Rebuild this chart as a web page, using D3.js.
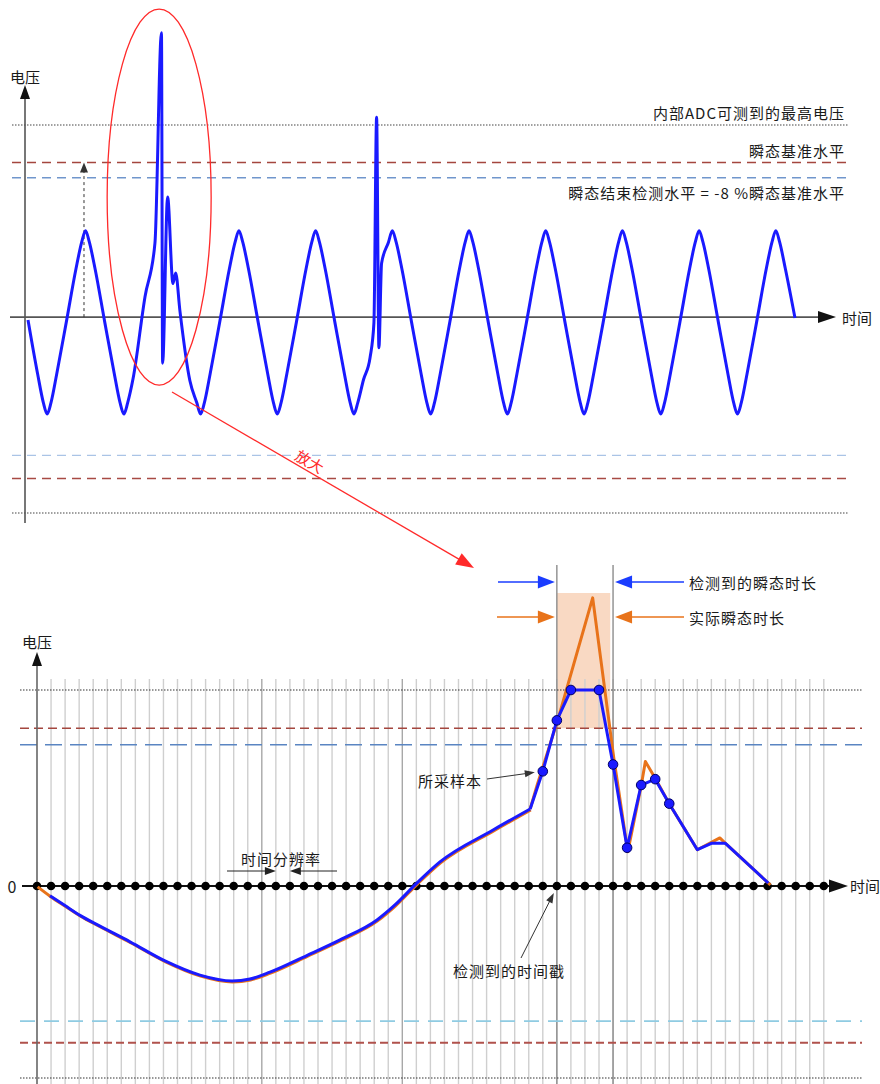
<!DOCTYPE html>
<html><head><meta charset="utf-8">
<script src="https://cdn.jsdelivr.net/npm/d3@7"></script>
<style>
body{margin:0;background:#fff}
text{font-family:"Noto Sans CJK SC","Noto Sans",sans-serif;fill:#1a1a1a}
</style>
</head><body>
<svg id="c" width="880" height="1084"></svg>
<script>
// ===================== DATA =====================
// Top panel: mains waveform with transients (time in ms, voltage in arbitrary units)
const topTime = [0,2.5,4,5,6,7.5,10,12.5,14,15,16,17.5,
  20,22.5,24,25,26,27.4,30.5,33.1,34.8,35.1,36.4,37.8,38.5,39.6,42.2,44,45,46,47.5,50,52.5,54,55,56,57.5,
  60,62.5,64,65,66,67.5,70,72.5,74,75,76,77.5,
  80,82.5,84,85,86,87.5,89.2,90.2,90.9,91.5,92.2,94,95,96,97.5,
  100,102.5,104,105,106,107.5,110,112.5,114,115,116,117.5,
  120,122.5,124,125,126,127.5,130,132.5,134,135,136,137.5,
  140,142.5,144,145,146,147.5,150,152.5,154,155,156,157.5,
  160,162.5,164,165,166,167.5,170,172.5,174,175,176,177.5,
  180,182.5,184,185,186,187.5,190,192.5,194,195,196,197.5,200];
const topVolt = [-0.3,-5.9,-8.9,-10.1,-8.9,-5.9,-0.5,5.0,7.8,9.0,7.8,5.0,
  -0.5,-5.9,-8.9,-10.1,-8.9,-6.4,2.1,7.7,29.6,-4.8,12.5,3.5,4.6,0.7,-6.6,-8.9,-10.1,-8.9,-5.9,-0.5,5.0,7.8,9.0,7.8,5.0,
  -0.5,-5.9,-8.9,-10.1,-8.9,-5.9,-0.5,5.0,7.8,9.0,7.8,5.0,
  -0.5,-5.9,-8.9,-10.1,-8.9,-6.5,-4.2,-0.6,20.8,-3.2,5.6,7.8,9.0,7.8,5.0,
  -0.5,-5.9,-8.9,-10.1,-8.9,-5.9,-0.5,5.0,7.8,9.0,7.8,5.0,
  -0.5,-5.9,-8.9,-10.1,-8.9,-5.9,-0.5,5.0,7.8,9.0,7.8,5.0,
  -0.5,-5.9,-8.9,-10.1,-8.9,-5.9,-0.5,5.0,7.8,9.0,7.8,5.0,
  -0.5,-5.9,-8.9,-10.1,-8.9,-5.9,-0.5,5.0,7.8,9.0,7.8,5.0,
  -0.5,-5.9,-8.9,-10.1,-8.9,-5.9,-0.5,5.0,7.8,9.0,7.8,5.0,-0.1];
const topLevelNames = ["adc","ref","end","endLow","refLow","adcLow"];
const topLevelValues = [20, 16.1, 14.5, -14.4, -16.8, -20.4];
const topLabels = ["内部ADC可测到的最高电压","瞬态基准水平","瞬态结束检测水平 = -8 %瞬态基准水平"];

// Bottom panel: zoomed transient, x in sample index
const smoothK = [0,0.93,1.99,3.06,4.48,6.62,9.11,11.6,13.88,15.16,16.58,19.2,21.57,24.2,25.48,27.05,28.68,32.46,35.1];
const smoothV = [0,-1.0,-2.0,-3.0,-4.1,-5.7,-7.65,-9.1,-9.7,-9.5,-8.8,-7.1,-5.5,-3.47,-1.94,0.31,2.45,5.71,7.86];
const sampledK = [35.1,36,37,38,40,41,42,43,44,45,47,48,49,52.05];
const sampledV = [7.86,11.7,16.9,20,20,12.4,3.9,10.3,10.9,8.4,3.7,4.35,4.35,0.3];
const actualK = [35.1,35.6,37.1,39.55,41.05,42.05,43,43.3,44,45,47,48.6,49,52.2];
const actualV = [7.86,10.3,17.1,29.4,13.1,3.5,10.2,12.7,11.0,8.4,3.7,4.9,4.35,0.1];
const sampleDotK = [36,37,38,40,41,42,43,44,45];
const sampleDotV = [11.7,16.9,20,20,12.4,3.9,10.3,10.9,8.4];
const sampleCount = 56;            // last sample index on the time axis
const majorGridK = [16,26];
const detectedK = [37,41];         // detected transient start/end samples
const actualSpanK = [37.0,40.8];   // actual transient above reference
const actualSpanTop = 29.9;
const botLevelNames = ["adc","ref","end","endLow","refLow","adcLow"];
const botLevelValues = [20, 16.1, 14.4, -13.8, -16, -19.6];

// ===================== DRAW =====================
const svg = d3.select("#c");
const BLUE = "#1a1aff", ORANGE = "#e8731a", RED = "#ff2a2a";

function head(g, x, y, ang, len, hw, col){
  const c=Math.cos(ang), s=Math.sin(ang);
  const bx=x-len*c, by=y-len*s;
  const p=[[x,y],[bx-hw*s,by+hw*c],[bx+hw*s,by-hw*c]];
  g.append("polygon").attr("points",p.map(d=>d.join(",")).join(" ")).attr("fill",col);
}
function arrow(g,x1,y1,x2,y2,col,w,len,hw,dash){
  const ang=Math.atan2(y2-y1,x2-x1);
  g.append("line").attr("x1",x1).attr("y1",y1)
   .attr("x2",x2-len*0.7*Math.cos(ang)).attr("y2",y2-len*0.7*Math.sin(ang))
   .attr("stroke",col).attr("stroke-width",w).attr("stroke-dasharray",dash||null);
  head(g,x2,y2,ang,len,hw,col);
}
function label(g,x,y,t,anchor,size,col){
  return g.append("text").attr("x",x).attr("y",y).attr("text-anchor",anchor||"start")
    .attr("dominant-baseline","central").attr("font-size",size||15)
    .attr("letter-spacing",1).style("fill",col||"#1a1a1a").text(t);
}

// ---------- TOP PANEL ----------
const gT = svg.append("g");
const xT = d3.scaleLinear().domain([0,200]).range([28,795]);
const yT = d3.scaleLinear().domain([-20.4,20]).range([513,125]);
const topStyle = {
  adc:{c:"#444",d:"1.5,1.5",w:1.2}, ref:{c:"#a4463e",d:"9,6",w:1.4},
  end:{c:"#7096cc",d:"9,6",w:1.4}, endLow:{c:"#aac4e6",d:"9,6",w:1.4},
  refLow:{c:"#a84a44",d:"9,6",w:1.4}, adcLow:{c:"#444",d:"1.5,1.5",w:1.2}};
topLevelNames.forEach((n,i)=>{
  const s=topStyle[n];
  gT.append("line").attr("x1",12).attr("x2",848)
    .attr("y1",yT(topLevelValues[i])).attr("y2",yT(topLevelValues[i]))
    .attr("stroke",s.c).attr("stroke-width",s.w).attr("stroke-dasharray",s.d);
});
label(gT,845,yT(topLevelValues[0])-13,topLabels[0],"end");
label(gT,845,yT(topLevelValues[1])-12,topLabels[1],"end");
label(gT,845,yT(topLevelValues[2])+15,topLabels[2],"end");

// axes
gT.append("line").attr("x1",25).attr("x2",25).attr("y1",523).attr("y2",95).attr("stroke","#555").attr("stroke-width",1.6);
head(gT,25,85,-Math.PI/2,14,5,"#111");
gT.append("line").attr("x1",10).attr("x2",822).attr("y1",yT(0)).attr("y2",yT(0)).attr("stroke","#555").attr("stroke-width",1.6);
head(gT,836,yT(0),0,18,6,"#111");
label(gT,25,76,"电压","middle",15).attr("letter-spacing",0);
label(gT,842,yT(0),"时间","start",15).attr("letter-spacing",0);

// dashed arrow showing reference level
arrow(gT,xT(14.6),yT(0),xT(14.6),yT(topLevelValues[1]),"#333",1,10,4,"3,3");

// waveform
const topPts = topTime.map((t,i)=>[t,topVolt[i]]);
gT.append("path").datum(topPts)
  .attr("d",d3.line().x(d=>xT(d[0])).y(d=>yT(d[1])).curve(d3.curveMonotoneX))
  .attr("fill","none").attr("stroke",BLUE).attr("stroke-width",3).attr("stroke-linejoin","round");

// zoom ellipse + arrow
gT.append("ellipse").attr("cx",xT(34.2)).attr("cy",yT(12.5)).attr("rx",52).attr("ry",188)
  .attr("fill","none").attr("stroke",RED).attr("stroke-width",1.3);
arrow(gT,172,392,474,568,RED,1.3,18,6.5);
gT.append("text").attr("transform","translate(310,461) rotate(30.2)")
  .attr("text-anchor","middle").attr("dominant-baseline","central")
  .attr("font-size",15).style("fill",RED).text("放大");

// ---------- BOTTOM PANEL ----------
const gB = svg.append("g");
const xB = d3.scaleLinear().domain([0,sampleCount]).range([37,823.8]);
const yB = d3.scaleLinear().domain([-19.6,20]).range([1078,690]);

// shaded actual-duration area
gB.append("rect").attr("x",xB(actualSpanK[0])).attr("width",xB(actualSpanK[1])-xB(actualSpanK[0]))
  .attr("y",yB(actualSpanTop)).attr("height",yB(botLevelValues[1])-yB(actualSpanTop))
  .attr("fill","#f8d5bd").attr("opacity",0.9);

// sample grid
const gridK = d3.range(1,sampleCount+1);
gB.selectAll(".grid").data(gridK).enter().append("line")
  .attr("x1",d=>xB(d)).attr("x2",d=>xB(d)).attr("y1",679).attr("y2",1084)
  .attr("stroke",d=>majorGridK.includes(d)?"#a8a8a8":"#cfcfcf").attr("stroke-width",1.4);
gB.selectAll(".det").data(detectedK).enter().append("line")
  .attr("x1",d=>xB(d)).attr("x2",d=>xB(d)).attr("y1",565).attr("y2",1084)
  .attr("stroke","#8c8c8c").attr("stroke-width",1.4);

const botStyle = {
  adc:{c:"#333",d:"1.5,1.5",w:1.2}, ref:{c:"#a4463e",d:"9,5",w:1.4},
  end:{c:"#5a85c2",d:"17,8",w:1.5}, endLow:{c:"#8fcbe2",d:"15,9",w:1.6},
  refLow:{c:"#b0524c",d:"8,4",w:1.8}, adcLow:{c:"#333",d:"1.5,1.5",w:1.2}};
botLevelNames.forEach((n,i)=>{
  const s=botStyle[n];
  gB.append("line").attr("x1",20).attr("x2",862)
    .attr("y1",yB(botLevelValues[i])).attr("y2",yB(botLevelValues[i]))
    .attr("stroke",s.c).attr("stroke-width",s.w).attr("stroke-dasharray",s.d);
});

// axes
gB.append("line").attr("x1",xB(0)).attr("x2",xB(0)).attr("y1",1084).attr("y2",660).attr("stroke","#666").attr("stroke-width",1.6);
head(gB,xB(0),652,-Math.PI/2,14,5,"#111");
gB.append("line").attr("x1",22).attr("x2",834).attr("y1",yB(0)).attr("y2",yB(0)).attr("stroke","#111").attr("stroke-width",2);
head(gB,848,yB(0),0,19,6.5,"#111");
label(gB,37,641,"电压","middle",15).attr("letter-spacing",0);
label(gB,850,yB(0),"时间","start",15).attr("letter-spacing",0);
label(gB,12,yB(0),"0","middle",16).attr("letter-spacing",0);

// sample time dots
gB.selectAll(".dot").data(d3.range(0,sampleCount+1)).enter().append("circle")
  .attr("cx",d=>xB(d)).attr("cy",yB(0)).attr("r",4.3).attr("fill","#000");

// curves
const lineS = d3.line().x(d=>xB(d[0])).y(d=>yB(d[1]));
const smoothPts = smoothK.map((k,i)=>[k,smoothV[i]]);
const actualPts = actualK.map((k,i)=>[k,actualV[i]]);
const sampledPts = sampledK.map((k,i)=>[k,sampledV[i]]);
const blueSmooth = smoothPts.slice(1);
gB.append("path").datum(smoothPts).attr("d",lineS.curve(d3.curveMonotoneX))
  .attr("fill","none").attr("stroke",ORANGE).attr("stroke-width",3).attr("transform","translate(0.6,0.9)");
gB.append("path").datum(actualPts).attr("d",lineS.curve(d3.curveLinear))
  .attr("fill","none").attr("stroke",ORANGE).attr("stroke-width",3).attr("stroke-linejoin","round");
gB.append("path").datum(blueSmooth).attr("d",lineS.curve(d3.curveMonotoneX))
  .attr("fill","none").attr("stroke",BLUE).attr("stroke-width",3);
gB.append("path").datum(sampledPts).attr("d",lineS.curve(d3.curveLinear))
  .attr("fill","none").attr("stroke",BLUE).attr("stroke-width",3).attr("stroke-linejoin","round");
gB.selectAll(".sdot").data(sampleDotK.map((k,i)=>[k,sampleDotV[i]])).enter().append("circle")
  .attr("cx",d=>xB(d[0])).attr("cy",d=>yB(d[1])).attr("r",4.8)
  .attr("fill",BLUE).attr("stroke","#000066").attr("stroke-width",1);

// duration arrows
const yDet = 582, yAct = 617;
arrow(gB,498,yDet,xB(detectedK[0])-2,yDet,"#1a3cff",1.4,17,6.5);
arrow(gB,684,yDet,xB(detectedK[1])+2,yDet,"#1a3cff",1.4,17,6.5);
arrow(gB,497,yAct,xB(detectedK[0])-2,yAct,ORANGE,1.4,17,6.5);
arrow(gB,684,yAct,xB(detectedK[1])+2,yAct,ORANGE,1.4,17,6.5);
label(gB,689,yDet,"检测到的瞬态时长");
label(gB,689,yAct,"实际瞬态时长");

// annotations
label(gB,418,780,"所采样本");
arrow(gB,487,779,xB(36)-8,yB(sampleDotV[0])+1,"#333",1,10,3.5);
label(gB,241,858,"时间分辨率");
arrow(gB,227,871,xB(17),871,"#222",1,11,4);
arrow(gB,337,871,xB(18),871,"#222",1,11,4);
label(gB,453,970,"检测到的时间戳");
arrow(gB,521,958,xB(37)-3,yB(0)+7,"#333",1,10,3.5);
</script>
</body></html>
